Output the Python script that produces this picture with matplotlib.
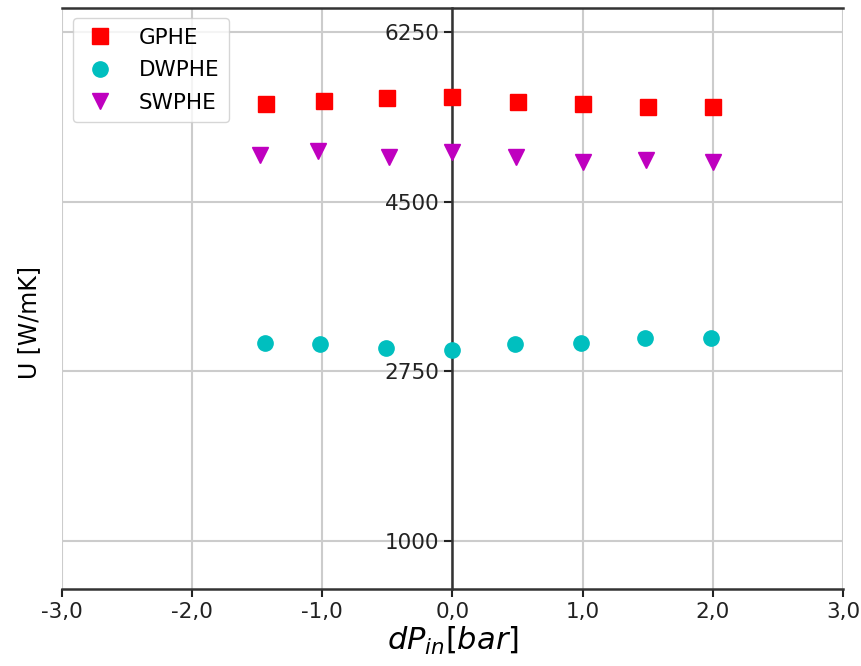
import matplotlib
matplotlib.use("Agg")
import matplotlib.pyplot as plt
from matplotlib.ticker import FuncFormatter, FixedLocator

# Overall heat transfer coefficient vs inlet pressure difference
gphe_dp = [-1.43, -0.99, -0.50, 0.00, 0.50, 1.00, 1.50, 2.00]
gphe_u = [5507, 5541, 5569, 5583, 5531, 5507, 5480, 5480]

dwphe_dp = [-1.44, -1.02, -0.51, 0.00, 0.48, 0.99, 1.48, 1.99]
dwphe_u = [3039, 3028, 2987, 2967, 3028, 3044, 3090, 3090]

swphe_dp = [-1.48, -1.03, -0.49, 0.00, 0.49, 1.00, 1.49, 2.00]
swphe_u = [4981, 5023, 4964, 5015, 4964, 4912, 4930, 4912]

x_ticks = [-3, -2, -1, 0, 1, 2, 3]
y_ticks = [1000, 2750, 4500, 6250]

fig = plt.figure(figsize=(8.61, 6.66), dpi=100)
ax = fig.add_axes([0.072, 0.1156, 0.907, 0.8724])

ms = 11
ax.plot(gphe_dp, gphe_u, "s", color="r", ms=ms, label="GPHE", zorder=3)
ax.plot(dwphe_dp, dwphe_u, "o", color="c", ms=ms, label="DWPHE", zorder=3)
ax.plot(swphe_dp, swphe_u, "v", color="m", ms=ms, label="SWPHE", zorder=3)

ax.set_xlim(-3, 3)
ax.set_ylim(500, 6500)
ax.xaxis.set_major_locator(FixedLocator(x_ticks))
ax.yaxis.set_major_locator(FixedLocator(y_ticks))
ax.xaxis.set_major_formatter(FuncFormatter(lambda v, p: f"{v:.1f}".replace(".", ",")))

ax.grid(True, color="#cccccc", linewidth=1.5)
ax.set_axisbelow(True)

ax.spines["left"].set_position(("data", 0))
ax.spines["right"].set_visible(False)
for side in ("left", "bottom", "top"):
    ax.spines[side].set_color("#333333")
    ax.spines[side].set_linewidth(1.8)

ax.tick_params(axis="both", labelsize=15.5, colors="#222222", width=1.5, length=6)

ax.set_xlabel(r"$dP_{in}[bar]$", fontsize=22, labelpad=2)
ax.set_ylabel("U [W/mK]", fontsize=17)
ax.yaxis.set_label_coords(-0.027, 0.458, transform=ax.transAxes)

ax.legend(loc="upper left", fontsize=15.5, framealpha=0.8, edgecolor="#cccccc",
          borderpad=0.45, handlelength=1.6, handletextpad=1.0, labelspacing=0.58,
          borderaxespad=0, bbox_to_anchor=(0.014, 0.983))

fig.savefig("out.png", dpi=100)
